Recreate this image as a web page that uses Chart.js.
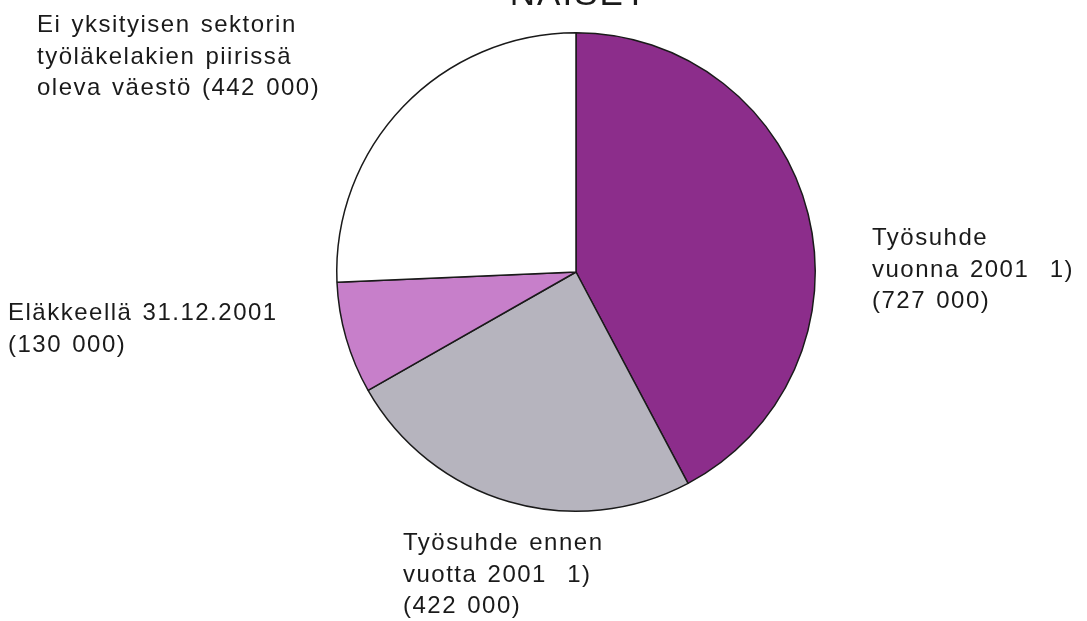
<!DOCTYPE html>
<html>
<head>
<meta charset="utf-8">
<script src="https://cdn.jsdelivr.net/npm/chart.js@4/dist/chart.umd.min.js"></script>
<style>
html,body{margin:0;padding:0;background:#fff;}
#wrap{width:1087px;height:621px;position:relative;}
</style>
</head>
<body>
<div id="wrap"><canvas id="c" width="1087" height="621"></canvas></div>
<script>
const title = "NAISET";
const categories = [
  "Työsuhde vuonna 2001 1)",
  "Työsuhde ennen vuotta 2001 1)",
  "Eläkkeellä 31.12.2001",
  "Ei yksityisen sektorin työläkelakien piirissä oleva väestö"
];
const values = [727000, 422000, 130000, 442000];
const labelLines = [
  ["Työsuhde", "vuonna 2001  1)", "(727 000)"],
  ["Työsuhde ennen", "vuotta 2001  1)", "(422 000)"],
  ["Eläkkeellä 31.12.2001", "(130 000)"],
  ["Ei yksityisen sektorin", "työläkelakien piirissä", "oleva väestö (442 000)"]
];
const colors = ["#8c2d8b", "#b6b4be", "#c77fca", "#ffffff"];

// label anchor (left x, first baseline y) relative to pie center
const labelAnchors = [
  {dx: 296, dy: -27},
  {dx: -173, dy: 278},
  {dx: -568, dy: 48},
  {dx: -539, dy: -240}
];

const labelPlugin = {
  id: 'labels',
  afterDraw(chart) {
    const ctx = chart.ctx;
    const arc = chart.getDatasetMeta(0).data[0];
    const cx = arc.x, cy = arc.y;
    ctx.save();
    ctx.fillStyle = '#1a1a1a';
    ctx.font = '24px "Liberation Sans", Arial, sans-serif';
    ctx.letterSpacing = '1.5px';
    ctx.wordSpacing = '2px';
    ctx.textBaseline = 'alphabetic';
    ctx.textAlign = 'left';
    labelLines.forEach((lines, i) => {
      const a = labelAnchors[i];
      lines.forEach((ln, j) => {
        ctx.fillText(ln, cx + a.dx, cy + a.dy + j * 31.5);
      });
    });
    ctx.font = '35px "Liberation Sans", Arial, sans-serif';
    ctx.letterSpacing = '2px';
    ctx.textAlign = 'center';
    ctx.fillText(title, cx + 3, 5);
    ctx.restore();
  }
};

new Chart(document.getElementById('c'), {
  type: 'pie',
  data: {
    labels: categories,
    datasets: [{
      data: values,
      backgroundColor: colors,
      borderColor: '#1a1a1a',
      borderWidth: 1.5
    }]
  },
  options: {
    responsive: false,
    animation: false,
    layout: {padding: {top: 32, bottom: 109, left: 336, right: 271}},
    plugins: {
      legend: {display: false},
      tooltip: {enabled: false},
      title: {display: false}
    }
  },
  plugins: [labelPlugin]
});
</script>
</body>
</html>
